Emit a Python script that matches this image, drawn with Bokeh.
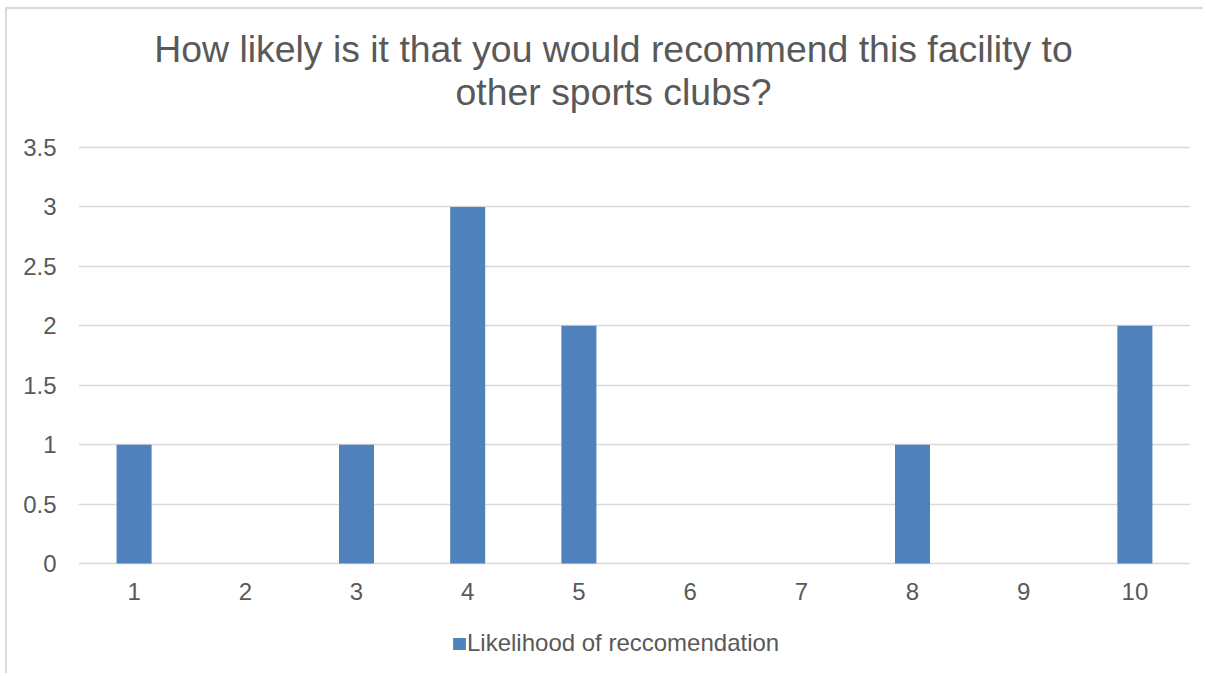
from bokeh.plotting import figure
from bokeh.models import Range1d, FixedTicker, NumeralTickFormatter, Label, Legend
from bokeh.embed import file_html
from bokeh.resources import INLINE

# ---- data ----
categories = ["1", "2", "3", "4", "5", "6", "7", "8", "9", "10"]
counts = [1, 0, 1, 3, 2, 0, 0, 1, 0, 2]
y_ticks = [0, 0.5, 1, 1.5, 2, 2.5, 3, 3.5]
title_lines = ["How likely is it that you would recommend this facility to",
               "other sports clubs?"]
series_name = "Likelihood of reccomendation"

FONT = "Liberation Sans"
TXT = "#595959"
BAR = "#4F81BD"
GRID = "#D9D9D9"

xs = list(range(1, len(categories) + 1))

# frame covers the whole card; the value axis spans 0..3.5 inside it
p = figure(width=1198, height=666, output_backend="svg", toolbar_location=None,
           x_range=Range1d(0.5, len(categories) + 0.5),
           y_range=Range1d(-0.942, 4.661),
           min_border_left=71, min_border_right=15, min_border_top=0,
           min_border_bottom=0, title=None)
p.margin = (9, 0, 0, 7)
p.styles = {"box-shadow": "-2px -2px 0 0 #D9D9D9"}
p.outline_line_color = None
p.background_fill_color = "white"
p.border_fill_color = "white"

r = p.vbar(x=xs, top=counts, width=0.315, fill_color=BAR, line_color=None)

# axes
p.yaxis.ticker = FixedTicker(ticks=y_ticks)
p.yaxis.formatter = NumeralTickFormatter(format="0.[0]")
p.xaxis.ticker = FixedTicker(ticks=xs)
p.xaxis.major_label_overrides = {x: c for x, c in zip(xs, categories)}
p.xaxis.fixed_location = 0
for ax in (p.xaxis, p.yaxis):
    ax.axis_line_color = None
    ax.major_tick_line_color = None
    ax.minor_tick_line_color = None
    ax.major_tick_out = 0
    ax.major_tick_in = 0
    ax.major_label_text_font = FONT
    ax.major_label_text_font_size = "24px"
    ax.major_label_text_color = TXT
p.yaxis.major_label_standoff = 22
p.xaxis.major_label_standoff = 19

p.xgrid.grid_line_color = None
p.ygrid.grid_line_color = GRID
p.ygrid.grid_line_width = 1.3

# title
for txt, yy in zip(title_lines, [4.326, 3.963]):
    p.add_layout(Label(x=5.311, y=yy, text=txt, text_align="center",
                       text_baseline="alphabetic", text_font=FONT,
                       text_font_size="37.4px", text_color=TXT))

# legend
legend = Legend(items=[(series_name, [r])], location=(373, 18),
                orientation="horizontal", padding=0, margin=0, spacing=0,
                glyph_width=16, glyph_height=15, label_standoff=0,
                label_text_font=FONT, label_text_font_size="24px",
                label_text_color=TXT, border_line_color=None,
                background_fill_alpha=0)
p.add_layout(legend, "center")

open("out.html", "w").write(file_html(p, INLINE))
